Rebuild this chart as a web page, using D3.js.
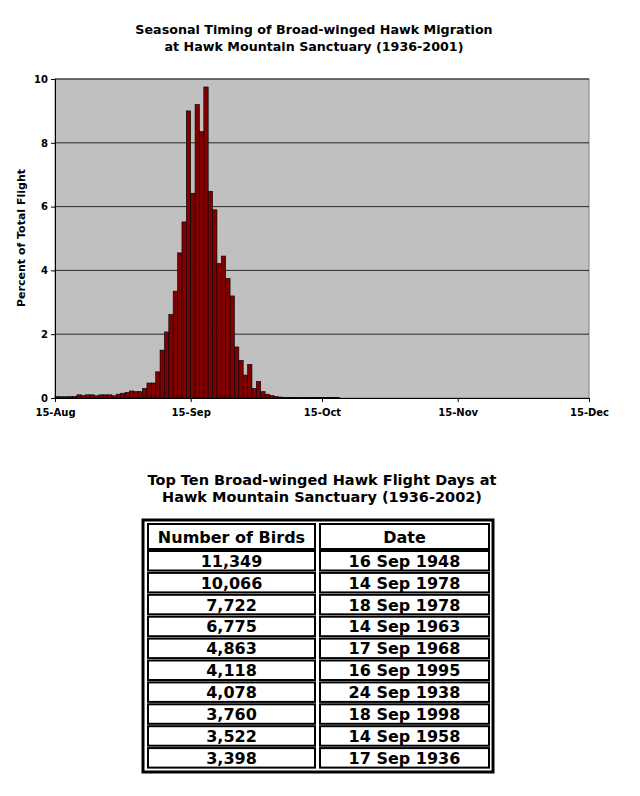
<!DOCTYPE html>
<html><head><meta charset="utf-8">
<script src="https://cdn.jsdelivr.net/npm/d3@7"></script>
<style>body{margin:0;background:#fff}</style></head>
<body><svg id="c" width="640" height="796"></svg>
<script>
const xTicks=["15-Aug","15-Sep","15-Oct","15-Nov","15-Dec"];
const xTickDays=[0,31,61,92,122];
const yTicks=[0,2,4,6,8,10];
const pct=[0.05,0.04,0.04,0.05,0.05,0.1,0.08,0.1,0.1,0.07,0.1,0.1,0.1,0.07,0.12,0.15,0.18,0.22,0.2,0.2,0.3,0.47,0.47,0.82,1.5,2.07,2.62,3.35,4.55,5.52,9.0,6.42,9.2,8.35,9.75,6.48,5.9,4.22,4.45,3.75,3.2,1.6,1.18,0.72,1.05,0.3,0.52,0.2,0.12,0.08,0.05,0.03,0.02,0.02,0.01,0.01,0.01,0.01,0.01,0.01,0.02,0.02,0.01,0.02,0.01];
const birds=["11,349","10,066","7,722","6,775","4,863","4,118","4,078","3,760","3,522","3,398"];
const dates=["16 Sep 1948","14 Sep 1978","18 Sep 1978","14 Sep 1963","17 Sep 1968","16 Sep 1995","24 Sep 1938","18 Sep 1998","14 Sep 1958","17 Sep 1936"];

const svg=d3.select("#c");
const F="Verdana, 'DejaVu Sans', sans-serif";
const x=d3.scaleLinear().domain([0,122]).range([55,589]);
const y=d3.scaleLinear().domain([0,10]).range([398,79]);
svg.append("rect").attr("x",55).attr("y",79).attr("width",534).attr("height",319).attr("fill","#c0c0c0").attr("stroke","#808080");
svg.append("g").selectAll("line").data(yTicks.slice(1)).join("line")
 .attr("x1",55).attr("x2",589).attr("y1",d=>y(d)).attr("y2",d=>y(d)).attr("stroke","#000").attr("stroke-width",0.8);
svg.append("g").selectAll("rect").data(pct).join("rect")
 .attr("x",(d,i)=>x(i)).attr("width",x(1)-x(0)).attr("y",d=>y(d)).attr("height",d=>398-y(d))
 .attr("fill","#800000").attr("stroke","#000").attr("stroke-width",0.6);
const ya=svg.append("g").attr("transform","translate(55,0)").call(d3.axisLeft(y).tickValues(yTicks).tickSize(4).tickFormat(d3.format("d")));
const xa=svg.append("g").attr("transform","translate(0,398)").call(d3.axisBottom(x).tickValues(xTickDays).tickSize(4).tickFormat((d,i)=>xTicks[i]));
[ya,xa].forEach(a=>{a.selectAll("text").attr("font-family",F).attr("font-size",10).attr("font-weight","bold").attr("fill","#000");a.selectAll("path,line").attr("stroke","#000");});
xa.selectAll("text").attr("dy","1.1em");
svg.append("text").attr("transform","translate(25,238) rotate(-90)").attr("text-anchor","middle").attr("font-family",F).attr("font-size",11).attr("font-weight","bold").text("Percent of Total Flight");
[["Seasonal Timing of Broad-winged Hawk Migration",34],["at Hawk Mountain Sanctuary (1936-2001)",51]].forEach(([t,yy])=>
 svg.append("text").attr("x",314).attr("y",yy).attr("text-anchor","middle").attr("font-family",F).attr("font-size",12.7).attr("font-weight","bold").text(t));
[["Top Ten Broad-winged Hawk Flight Days at",485,322],["Hawk Mountain Sanctuary (1936-2002)",502,322]].forEach(([t,yy,xx])=>
 svg.append("text").attr("x",xx).attr("y",yy).attr("text-anchor","middle").attr("font-family",F).attr("font-size",14.5).attr("font-weight","bold").text(t));
svg.append("rect").attr("x",143).attr("y",520).attr("width",350).attr("height",252).attr("fill","#fff").attr("stroke","#000").attr("stroke-width",3);
const rows=[["Number of Birds","Date"]].concat(birds.map((b,i)=>[b,dates[i]]));
const cols=[[148,167],[320,169]];
rows.forEach((r,i)=>{
 const top=i==0?524:551+(i-1)*21.9, h=i==0?25:19.5;
 r.forEach((t,j)=>{
  svg.append("rect").attr("x",cols[j][0]).attr("y",top).attr("width",cols[j][1]).attr("height",h).attr("fill","#fff").attr("stroke","#000").attr("stroke-width",2);
  svg.append("text").attr("x",cols[j][0]+cols[j][1]/2).attr("y",top+h/2+6).attr("text-anchor","middle").attr("font-family",F).attr("font-size",16).attr("font-weight","bold").text(t);
 });
});
</script></body></html>
